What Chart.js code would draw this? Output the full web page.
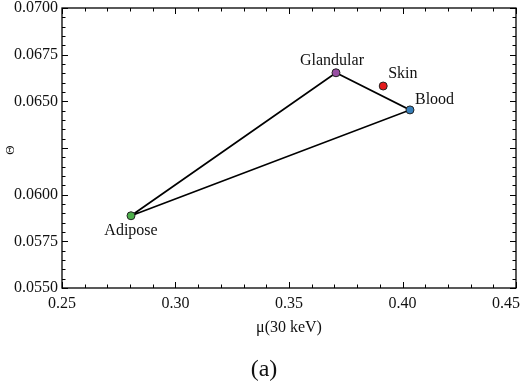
<!DOCTYPE html>
<html>
<head>
<meta charset="utf-8">
<script src="https://cdn.jsdelivr.net/npm/chart.js@4.4.1/dist/chart.umd.min.js"></script>
<style>
  html, body { margin: 0; padding: 0; background: #fff; }
  #wrap { width: 522px; height: 389px; }
</style>
</head>
<body>
<div id="wrap"><canvas id="chart" width="522" height="389"></canvas></div>
<script>
// tissue values
const tissues = ['Adipose', 'Glandular', 'Blood', 'Skin'];
const muValues = [0.2804, 0.3707, 0.4033, 0.3915];
const thetaValues = [0.05887, 0.06653, 0.06454, 0.06582];
const pointColors = ['#4daf4a', '#984ea3', '#377eb8', '#e41a1c'];
// triangle path: Adipose -> Glandular -> Blood -> Adipose
const trianglePath = [0, 1, 2, 0];
const hiddenYTicks = [0.0625];

const serif = '"Liberation Serif", "Times New Roman", serif';

// label placement around each point (offsets in px)
const labelPlace = {
    Adipose:   { dx: 0,  dy: 15,  align: 'center' },
    Glandular: { dx: -4, dy: -12, align: 'center' },
    Blood:     { dx: 5,  dy: -10, align: 'left' },
    Skin:      { dx: 5,  dy: -12, align: 'left' }
};

const pointLabels = {
    id: 'pointLabels',
    afterDatasetsDraw(chart) {
        const { ctx, scales: { x, y } } = chart;
        ctx.save();
        ctx.fillStyle = '#111';
        ctx.font = '16px ' + serif;
        ctx.textBaseline = 'middle';
        tissues.forEach((name, i) => {
            const p = labelPlace[name];
            ctx.textAlign = p.align;
            ctx.fillText(name, x.getPixelForValue(muValues[i]) + p.dx, y.getPixelForValue(thetaValues[i]) + p.dy);
        });
        ctx.restore();
    }
};

// boxed frame with inward major/minor ticks on all four sides
const frameTicks = {
    id: 'frameTicks',
    afterDraw(chart) {
        const { ctx, chartArea: a, scales: { x, y } } = chart;
        ctx.save();
        ctx.strokeStyle = '#000';
        ctx.lineWidth = 1.3;
        ctx.strokeRect(a.left, a.top, a.right - a.left, a.bottom - a.top);
        ctx.lineWidth = 1;
        ctx.beginPath();
        for (let k = 0; k <= 20; k++) {
            const px = Math.round(x.getPixelForValue(0.25 + k * 0.01)) + 0.5;
            const len = k % 5 === 0 ? 6 : 3.5;
            ctx.moveTo(px, a.bottom); ctx.lineTo(px, a.bottom - len);
            ctx.moveTo(px, a.top); ctx.lineTo(px, a.top + len);
        }
        for (let k = 0; k <= 30; k++) {
            const py = Math.round(y.getPixelForValue(0.055 + k * 0.0005)) + 0.5;
            const len = k % 5 === 0 ? 6 : 3.5;
            ctx.moveTo(a.left, py); ctx.lineTo(a.left + len, py);
            ctx.moveTo(a.right, py); ctx.lineTo(a.right - len, py);
        }
        ctx.stroke();

        // y axis symbol and panel caption
        ctx.fillStyle = '#111';
        ctx.font = '13px ' + serif;
        ctx.textAlign = 'center';
        ctx.textBaseline = 'middle';
        ctx.translate(11, 150);
        ctx.rotate(-Math.PI / 2);
        ctx.fillText('Θ', 0, 0);
        ctx.setTransform(1, 0, 0, 1, 0, 0);
        ctx.font = '24px ' + serif;
        ctx.fillText('(a)', 264, 370);
        ctx.restore();
    }
};

new Chart(document.getElementById('chart'), {
    type: 'scatter',
    data: {
        datasets: [
            {
                data: trianglePath.map(i => ({ x: muValues[i], y: thetaValues[i] })),
                showLine: true,
                borderColor: '#000',
                borderWidth: 1.7,
                pointRadius: 0,
                fill: false,
                order: 2
            },
            {
                data: tissues.map((t, i) => ({ x: muValues[i], y: thetaValues[i] })),
                pointRadius: 4,
                pointBackgroundColor: pointColors,
                pointBorderColor: '#222',
                pointBorderWidth: 1,
                order: 1
            }
        ]
    },
    options: {
        responsive: false,
        animation: false,
        events: [],
        layout: { padding: { top: 8, right: 6, bottom: 52, left: 0 } },
        plugins: {
            legend: { display: false },
            tooltip: { enabled: false }
        },
        scales: {
            x: {
                type: 'linear',
                min: 0.25,
                max: 0.45,
                grid: { display: false, drawTicks: false },
                border: { display: false },
                ticks: {
                    stepSize: 0.05,
                    padding: 6,
                    color: '#111',
                    font: { family: serif, size: 16 },
                    maxRotation: 0,
                    // last label is pulled left so it stays inside the canvas
                    callback: v => Math.abs(v - 0.45) < 1e-9 ? v.toFixed(2) + '\u00a0'.repeat(5) : v.toFixed(2)
                },
                title: {
                    display: true,
                    text: 'μ(30 keV)',
                    color: '#111',
                    font: { family: serif, size: 16 },
                    padding: { top: 0, bottom: 0 }
                },
                afterFit(scale) {
                    scale.height = 49;
                    scale.paddingLeft = 0;
                    scale.paddingRight = 0;
                }
            },
            y: {
                type: 'linear',
                min: 0.055,
                max: 0.07,
                grid: { display: false, drawTicks: false },
                border: { display: false },
                ticks: {
                    stepSize: 0.0025,
                    padding: 4,
                    color: '#111',
                    font: { family: serif, size: 16 },
                    callback: v => hiddenYTicks.some(h => Math.abs(h - v) < 1e-9) ? '' : v.toFixed(4)
                },
                afterFit(scale) {
                    scale.width = 62;
                    scale.paddingTop = 0;
                    scale.paddingBottom = 0;
                }
            }
        }
    },
    plugins: [pointLabels, frameTicks]
});
</script>
</body>
</html>
